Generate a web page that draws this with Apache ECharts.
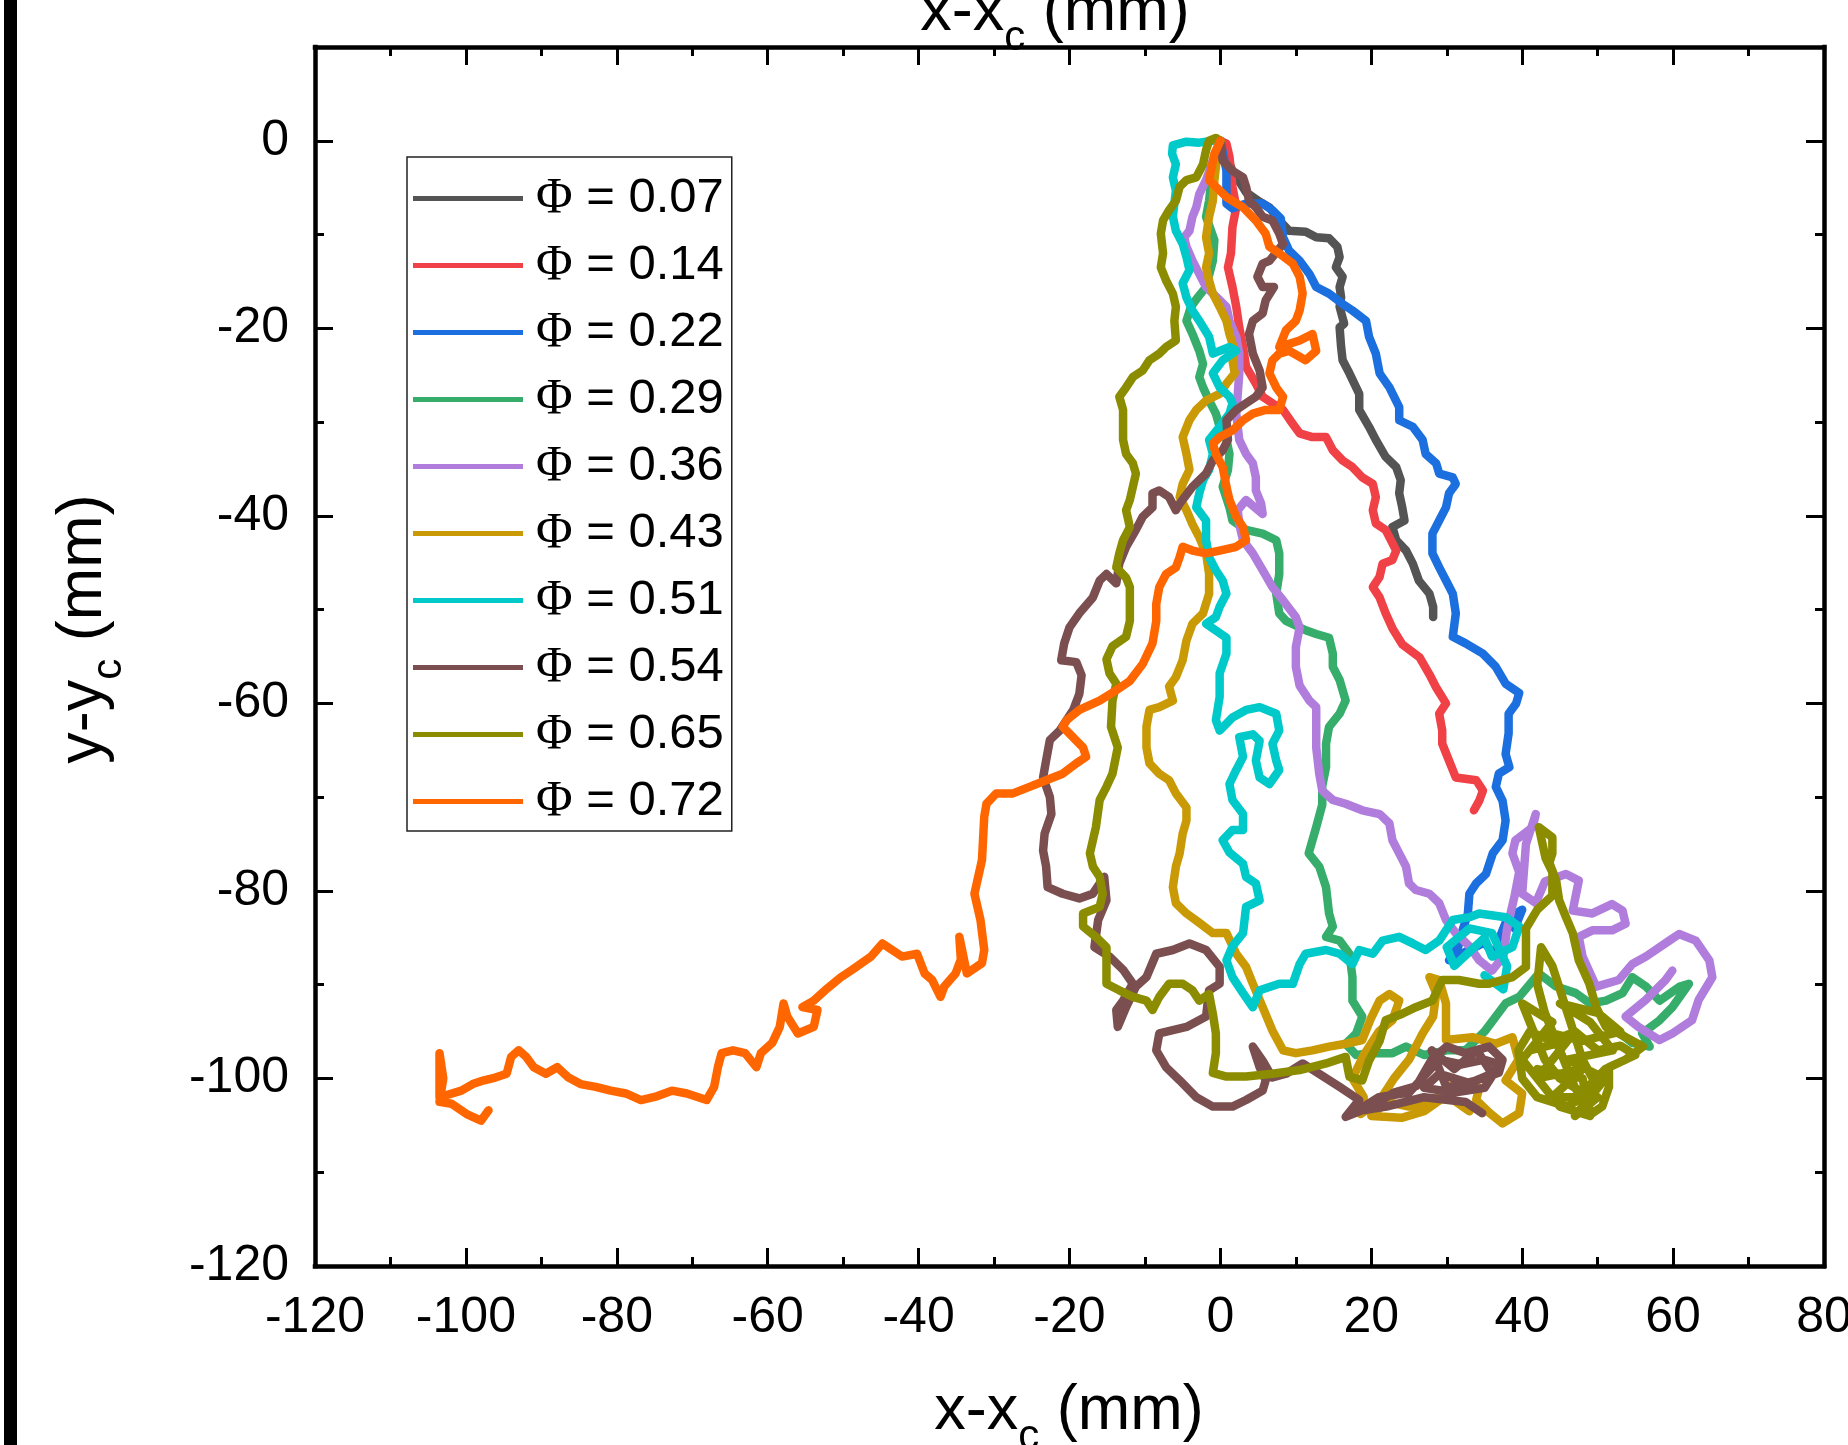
<!DOCTYPE html>
<html>
<head>
<meta charset="utf-8">
<script src="https://cdn.jsdelivr.net/npm/echarts@6.0.0/dist/echarts.min.js"></script>
<style>
  html, body { margin: 0; padding: 0; background: #fff; overflow: hidden; }
  #chart { width: 1848px; height: 1445px; }
</style>
</head>
<body>
<div id="chart"></div>
<script>
// trajectories, x-xc / y-yc in mm
const phi007 = [[0,0],[1.6,-3.2],[3.4,-5.5],[5.2,-6.5],[6.5,-7.1],[7.8,-8.5],[9.1,-9.6],[11.3,-9.7],[12.7,-10.3],[14.4,-10.4],[15.5,-11.3],[15.8,-12.4],[15.3,-13.5],[16.2,-14.5],[15.8,-15.6],[16.0,-16.7],[15.8,-17.7],[16.4,-19.5],[15.8,-19.9],[16.0,-22.0],[16.2,-23.4],[17.1,-24.8],[18.4,-27.0],[18.4,-28.7],[19.7,-30.5],[20.6,-31.9],[21.9,-33.7],[23.3,-34.8],[23.9,-36.2],[23.7,-37.6],[24.1,-39.1],[24.4,-40.5],[22.8,-41.2],[23.3,-42.6],[24.6,-43.7],[25.5,-45.1],[26.3,-46.9],[27.7,-48.3],[28.2,-49.7],[28.2,-50.8]];
const phi014 = [[0,0],[0.8,-0.3],[1.2,-1.7],[1.6,-4.9],[2.1,-7.1],[1.6,-9.2],[1.4,-12.0],[1.0,-13.5],[1.6,-15.6],[2.1,-17.7],[2.5,-19.9],[3.0,-22.0],[3.4,-24.1],[4.7,-25.9],[5.6,-27.3],[6.9,-28.0],[8.3,-28.7],[9.6,-30.2],[10.5,-31.2],[12.2,-31.6],[14.0,-31.6],[14.9,-33.0],[16.2,-34.1],[17.5,-34.8],[18.8,-35.9],[20.2,-36.6],[20.6,-38.0],[20.2,-39.4],[20.6,-40.8],[21.9,-41.5],[23.3,-43.7],[22.8,-44.7],[21.5,-45.1],[21.1,-46.5],[20.2,-47.6],[21.1,-48.7],[21.9,-50.4],[22.8,-52.0],[24.1,-53.7],[26.4,-55.1],[27.7,-56.9],[28.6,-58.3],[29.9,-60.0],[29.0,-61.1],[29.4,-62.9],[29.4,-64.3],[30.3,-66.1],[31.2,-67.9],[33.9,-68.2],[34.8,-69.3],[34.3,-70.4],[33.6,-71.4]];
const phi022 = [[0,0],[0.8,-3.2],[0.8,-6.7],[1.6,-7.2],[3.4,-6.7],[5.6,-6.7],[6.9,-7.4],[8.0,-8.3],[8.3,-10.3],[9.1,-11.7],[10.5,-12.8],[11.8,-14.2],[12.7,-15.6],[14.4,-16.3],[16.2,-17.4],[17.5,-18.1],[19.3,-19.2],[19.7,-20.9],[20.6,-22.7],[21.1,-24.8],[22.4,-26.3],[23.7,-28.4],[23.7,-29.8],[25.5,-30.5],[26.8,-31.9],[27.2,-33.4],[28.6,-34.4],[29.0,-35.5],[30.8,-35.9],[31.2,-36.6],[30.3,-37.6],[29.9,-39.1],[29.0,-40.5],[28.1,-41.9],[28.1,-44.0],[29.0,-45.5],[29.9,-46.9],[30.8,-48.3],[31.2,-50.4],[30.8,-52.9],[32.5,-53.6],[34.8,-54.7],[36.5,-56.1],[37.8,-57.9],[39.6,-58.9],[39.2,-60.0],[38.2,-61.1],[38.2,-63.2],[37.8,-65.4],[38.3,-66.8],[36.9,-67.5],[36.5,-68.9],[37.4,-70.4],[37.8,-72.5],[37.4,-74.6],[36.1,-76.0],[35.2,-78.2],[33.9,-79.2],[33.0,-80.3],[32.8,-82.4],[32.1,-84.2],[31.5,-86.0],[30.3,-87.4],[32.5,-86.5],[35.0,-85.5],[36.5,-87.0],[37.0,-85.0],[38.0,-83.0],[40.0,-82.0],[39.0,-84.0]];
const phi029 = [[0,0],[-1.0,-2.8],[-1.5,-6.4],[-1.9,-8.1],[-0.8,-10.6],[-1.0,-12.8],[-1.9,-15.6],[-3.0,-16.7],[-3.9,-17.7],[-4.5,-19.2],[-3.7,-20.6],[-2.8,-22.4],[-2.3,-23.8],[-2.8,-25.2],[-2.3,-26.3],[-1.5,-27.7],[-0.6,-29.1],[-0.1,-30.5],[0.8,-31.9],[1.2,-33.4],[1.0,-35.1],[0.3,-36.9],[1.2,-39.1],[1.6,-40.5],[3.4,-41.5],[5.6,-41.9],[7.4,-42.6],[7.8,-44.0],[7.8,-46.2],[7.4,-48.3],[7.8,-50.4],[8.7,-51.2],[11.3,-52.2],[12.7,-52.6],[14.4,-53.0],[14.9,-54.7],[14.9,-56.1],[15.8,-57.5],[16.6,-59.7],[15.8,-61.1],[14.4,-62.5],[14.0,-64.3],[14.0,-66.8],[13.5,-68.8],[13.5,-70.8],[12.7,-73.2],[11.7,-76.0],[13.1,-77.4],[14.0,-79.6],[14.4,-82.4],[14.9,-83.8],[14.0,-84.9],[15.8,-85.3],[17.1,-86.7],[17.5,-89.2],[17.5,-91.7],[18.8,-93.4],[18.0,-95.2],[16.6,-96.3],[18.0,-97.5],[20.0,-97.3],[22.8,-97.3],[24.6,-96.6],[27.0,-97.5],[30.0,-97.0],[32.5,-97.0],[35.0,-95.0],[37.8,-92.0],[39.6,-91.3],[42.2,-88.8],[44.5,-90.2],[47.1,-90.9],[49.0,-92.0],[51.1,-91.7],[53.3,-90.9],[54.6,-89.2],[56.4,-90.2],[58.2,-91.7],[60.9,-90.2],[62.1,-89.9],[59.9,-92.4],[58.2,-93.8],[55.9,-95.2],[56.9,-96.6],[54.6,-96.2],[51.9,-94.5]];
const phi036 = [[0,0],[-1.0,-2.1],[-1.9,-4.2],[-2.8,-5.7],[-3.2,-7.1],[-3.7,-8.1],[-4.1,-9.6],[-4.8,-10.3],[-4.5,-11.3],[-3.7,-12.8],[-2.8,-14.2],[-1.9,-15.6],[-0.1,-17.0],[0.8,-17.7],[1.2,-19.2],[2.1,-20.9],[2.5,-22.7],[2.5,-24.8],[2.3,-27.0],[2.1,-29.1],[2.5,-31.9],[3.4,-33.4],[4.3,-34.4],[4.7,-35.9],[4.7,-37.3],[5.4,-38.7],[5.6,-39.8],[3.4,-38.3],[2.3,-39.4],[2.5,-40.9],[3.0,-42.6],[4.3,-44.0],[5.6,-45.8],[6.9,-47.6],[8.3,-49.0],[10.0,-50.8],[10.5,-51.9],[10.0,-54.0],[10.0,-56.1],[10.5,-58.1],[11.8,-59.7],[12.7,-60.4],[12.7,-62.4],[12.7,-64.7],[13.1,-67.5],[13.5,-69.3],[14.9,-70.3],[16.6,-70.7],[18.8,-71.4],[21.1,-71.8],[22.4,-72.8],[22.8,-74.6],[23.7,-76.0],[24.6,-77.4],[25.0,-79.2],[25.9,-79.9],[27.7,-80.3],[29.0,-81.3],[29.9,-83.1],[31.2,-84.5],[33.0,-85.9],[34.3,-87.4],[36.0,-88.5],[37.5,-87.0],[38.0,-84.0],[39.0,-80.5],[39.6,-78.0],[38.7,-76.0],[39.1,-74.6],[41.4,-73.2],[41.8,-71.8],[40.5,-75.0],[40.0,-80.3],[41.8,-81.3],[43.0,-79.0],[45.8,-78.2],[47.5,-78.9],[46.7,-82.1],[49.3,-82.4],[51.9,-81.4],[53.3,-82.1],[53.7,-83.5],[51.9,-84.2],[49.3,-84.2],[47.5,-84.9],[48.0,-87.0],[49.8,-90.2],[52.8,-89.5],[54.6,-87.8],[56.4,-87.0],[59.5,-85.3],[60.8,-84.6],[63.0,-85.3],[64.8,-87.4],[65.2,-89.2],[63.4,-91.6],[62.5,-93.8],[59.9,-95.2],[58.2,-95.9],[55.4,-94.5],[53.7,-93.4],[56.4,-91.6],[59.0,-89.5],[59.9,-88.5]];
const phi043 = [[0,0],[-0.5,-2.1],[-0.8,-4.2],[-1.0,-6.4],[-1.5,-8.1],[-1.9,-10.3],[-1.5,-12.0],[-1.9,-13.5],[-1.5,-14.9],[-1.0,-16.3],[-0.1,-17.7],[0.8,-19.2],[1.2,-20.6],[1.9,-22.4],[1.6,-23.4],[1.9,-24.8],[0.8,-25.9],[-0.1,-27.0],[-1.9,-27.7],[-3.2,-28.7],[-4.1,-29.8],[-5.0,-31.6],[-4.5,-33.4],[-4.1,-35.1],[-5.0,-36.6],[-5.4,-38.0],[-4.5,-39.4],[-3.7,-40.9],[-2.8,-42.3],[-1.9,-44.0],[-1.5,-46.2],[-1.5,-48.3],[-2.3,-50.4],[-3.7,-51.5],[-4.5,-53.3],[-5.0,-55.4],[-5.9,-57.2],[-6.8,-58.2],[-6.3,-59.7],[-8.1,-60.4],[-9.4,-60.7],[-9.8,-62.5],[-9.8,-64.7],[-9.4,-66.4],[-8.1,-67.5],[-6.8,-68.2],[-5.9,-69.6],[-4.5,-71.1],[-4.5,-72.5],[-5.0,-73.9],[-5.4,-76.0],[-5.9,-77.4],[-6.3,-79.6],[-5.9,-81.3],[-4.5,-82.4],[-2.8,-83.4],[-1.0,-84.5],[0.8,-84.5],[2.1,-86.7],[3.4,-88.1],[4.3,-89.9],[5.6,-92.4],[6.9,-94.9],[8.3,-97.0],[10.0,-97.3],[12.2,-97.0],[14.4,-96.6],[16.6,-96.3],[18.8,-95.9],[20.0,-93.5],[21.1,-91.7],[22.4,-91.0],[23.7,-91.7],[22.8,-93.8],[21.0,-95.0],[19.0,-97.5],[17.5,-100.0],[19.0,-102.0],[18.6,-103.8],[21.0,-102.5],[23.0,-100.0],[25.0,-98.0],[26.8,-95.2],[28.2,-93.4],[28.6,-90.9],[27.7,-89.2],[29.0,-89.5],[29.9,-92.0],[29.9,-95.9],[33.4,-95.6],[36.5,-96.3],[38.7,-95.6],[39.5,-98.0],[37.8,-100.2],[40.0,-101.6],[39.6,-103.7],[37.4,-104.8],[35.7,-103.7],[33.9,-102.3],[34.3,-101.0],[31.0,-100.5],[28.0,-102.5],[25.0,-103.0],[22.0,-102.5],[20.0,-104.0],[24.0,-104.2],[27.0,-103.5],[30.0,-101.8],[33.0,-103.5]];
const phi051 = [[0,0],[-1.0,0],[-2.8,-0.2],[-4.5,-0.1],[-6.3,-0.5],[-6.4,-1.4],[-5.9,-2.5],[-6.3,-3.9],[-5.9,-5.3],[-6.1,-6.7],[-6.3,-8.1],[-5.9,-9.6],[-5.0,-11.0],[-4.5,-12.4],[-4.1,-13.8],[-5.0,-15.2],[-4.5,-16.7],[-3.7,-18.1],[-2.8,-19.2],[-1.5,-20.9],[-1.0,-22.7],[1.2,-22.0],[2.1,-22.4],[0.3,-23.4],[-1.0,-24.8],[-0.1,-26.3],[1.2,-27.3],[1.6,-28.0],[1.2,-29.1],[-0.1,-30.5],[-1.5,-31.9],[-1.0,-33.4],[-1.5,-35.1],[-2.3,-36.2],[-2.8,-37.6],[-3.2,-39.1],[-1.9,-40.5],[-1.9,-42.6],[-1.5,-44.4],[-0.6,-45.8],[0.3,-46.9],[0.8,-48.3],[-0.1,-49.7],[-0.6,-50.8],[-1.9,-51.5],[0.8,-53.0],[0.8,-54.7],[-0.1,-56.8],[-0.1,-59.3],[-0.6,-61.8],[-0.1,-62.9],[1.6,-61.5],[3.4,-60.7],[5.2,-60.4],[7.4,-61.1],[7.8,-62.9],[6.9,-64.3],[7.4,-66.1],[7.8,-67.1],[6.5,-68.6],[5.2,-67.9],[4.7,-66.1],[5.2,-64.0],[4.3,-63.3],[2.5,-63.6],[3.0,-65.7],[2.1,-67.1],[1.2,-68.6],[1.6,-70.3],[3.0,-71.8],[3.0,-73.5],[1.6,-73.5],[0.3,-74.6],[1.2,-75.9],[3.0,-77.1],[3.4,-78.5],[4.7,-79.2],[5.2,-81.0],[3.4,-81.7],[3.0,-84.5],[1.6,-85.9],[0.8,-87.4],[1.6,-89.2],[3.0,-90.9],[4.3,-92.4],[5.2,-90.6],[7.8,-89.9],[9.6,-89.9],[10.5,-87.8],[11.3,-86.7],[14.0,-86.3],[15.8,-86.7],[17.5,-87.8],[18.4,-86.3],[20.2,-86.7],[21.5,-85.3],[23.7,-84.9],[25.5,-85.6],[27.2,-86.3],[29.0,-85.3],[30.8,-83.1],[33.0,-82.8],[34.3,-82.4],[37.8,-82.8],[39.6,-83.8],[38.7,-86.0],[36.0,-87.0],[35.0,-85.0],[33.0,-86.5],[31.0,-88.0],[30.0,-86.0],[33.0,-84.0],[36.0,-84.5],[38.0,-88.0],[37.5,-90.5],[35.0,-89.0]];
const phi054 = [[0,0],[0.3,-2.1],[1.6,-3.2],[3.0,-3.9],[3.4,-4.9],[3.8,-6.4],[4.7,-7.1],[5.6,-8.1],[6.9,-8.5],[7.8,-9.9],[8.3,-11.0],[6.5,-12.8],[5.6,-13.1],[4.9,-14.5],[5.6,-15.6],[7.1,-15.6],[6.0,-17.0],[5.6,-18.4],[4.3,-19.2],[3.8,-20.6],[4.3,-22.7],[5.2,-24.5],[5.6,-26.3],[4.7,-27.3],[3.4,-28.0],[2.1,-28.7],[0.8,-29.8],[1.0,-31.9],[0.3,-33.0],[-1.0,-34.1],[-1.9,-35.5],[-3.7,-36.9],[-5.4,-38.7],[-5.9,-39.4],[-6.8,-38.0],[-8.1,-37.3],[-9.0,-37.6],[-9.0,-39.1],[-10.3,-40.1],[-11.2,-41.5],[-12.5,-43.3],[-13.4,-45.1],[-13.8,-47.2],[-15.1,-46.2],[-16.0,-46.9],[-16.9,-48.7],[-18.7,-50.4],[-20.0,-51.9],[-20.7,-53.6],[-21.1,-55.4],[-19.1,-55.6],[-18.4,-57.0],[-18.7,-59.0],[-19.5,-60.7],[-21.3,-62.9],[-22.6,-63.9],[-23.1,-66.1],[-23.5,-67.9],[-22.6,-70.0],[-22.4,-71.8],[-23.3,-73.9],[-23.5,-75.7],[-23.1,-77.4],[-22.9,-79.6],[-20.9,-80.3],[-18.7,-80.8],[-16.9,-80.3],[-15.4,-78.5],[-15.1,-81.0],[-16.2,-83.1],[-16.7,-86.0],[-14.7,-87.0],[-12.9,-88.4],[-11.6,-89.9],[-12.9,-91.7],[-13.8,-92.7],[-13.6,-94.5],[-12.5,-92.4],[-11.2,-90.2],[-9.8,-89.2],[-8.5,-86.7],[-6.3,-86.3],[-4.1,-85.6],[-1.9,-86.3],[-0.1,-88.1],[-0.1,-89.9],[-1.5,-90.6],[-1.9,-93.4],[-4.5,-94.5],[-8.1,-95.2],[-8.5,-97.0],[-7.2,-98.8],[-5.4,-100.2],[-3.2,-102.0],[-1.0,-103.0],[1.6,-103.0],[3.4,-102.3],[5.6,-101.3],[6.0,-100.2],[5.2,-98.8],[4.3,-96.6],[5.6,-98.1],[6.9,-99.9],[8.7,-99.5],[10.9,-98.4],[13.1,-99.5],[15.8,-100.9],[18.4,-102.3],[16.6,-104.1],[20.0,-103.0],[23.0,-101.5],[26.0,-100.8],[28.0,-98.0],[30.0,-96.6],[32.5,-97.3],[35.6,-96.6],[37.4,-98.0],[36.9,-99.4],[34.0,-100.2],[30.0,-101.0],[28.0,-97.0],[31.0,-99.0],[34.0,-97.0],[36.0,-99.5],[33.0,-100.5],[29.0,-99.5],[27.0,-101.0],[31.0,-101.5],[35.0,-101.0],[37.0,-98.5],[35.0,-98.0],[32.0,-98.5],[29.0,-98.0],[25.0,-101.5],[21.0,-102.0],[18.0,-103.5],[22.0,-103.0],[27.0,-102.0],[32.5,-102.5],[34.7,-103.7]];
const phi065 = [[0,0],[-0.6,0.3],[-1.5,0],[-1.9,-1.0],[-2.3,-2.5],[-3.2,-3.9],[-4.5,-4.2],[-5.4,-4.9],[-5.9,-6.4],[-6.8,-7.4],[-7.6,-8.5],[-7.9,-9.9],[-7.6,-12.0],[-7.9,-13.5],[-7.2,-14.9],[-6.3,-16.3],[-5.9,-17.7],[-6.1,-19.2],[-5.9,-21.3],[-7.2,-22.0],[-8.1,-22.7],[-9.4,-23.4],[-10.3,-24.5],[-11.6,-25.2],[-12.5,-26.3],[-13.4,-27.3],[-12.9,-28.7],[-12.9,-30.5],[-12.9,-31.9],[-12.5,-33.4],[-11.6,-34.4],[-11.2,-35.5],[-11.6,-36.9],[-12.0,-38.3],[-12.5,-39.4],[-12.0,-41.2],[-12.9,-42.6],[-13.4,-44.0],[-13.8,-45.5],[-12.5,-46.6],[-12.0,-47.6],[-12.0,-49.0],[-12.0,-51.2],[-12.5,-52.9],[-14.3,-53.9],[-15.1,-55.3],[-14.7,-56.8],[-13.8,-57.9],[-14.3,-59.7],[-14.5,-62.5],[-13.6,-64.7],[-14.3,-67.5],[-15.1,-68.9],[-16.0,-70.3],[-16.5,-73.2],[-17.3,-76.0],[-16.9,-77.4],[-16.0,-78.5],[-15.6,-80.3],[-16.0,-81.7],[-18.2,-82.4],[-18.2,-83.8],[-16.5,-84.9],[-15.1,-86.0],[-15.1,-88.1],[-15.1,-89.9],[-13.4,-90.6],[-11.6,-91.3],[-9.8,-91.7],[-9.0,-92.7],[-8.1,-91.3],[-6.8,-89.9],[-5.0,-89.9],[-3.7,-90.6],[-2.8,-91.7],[-1.5,-91.0],[-1.0,-93.1],[-0.6,-95.2],[-0.6,-97.3],[-1.0,-99.4],[0.8,-99.8],[3.4,-99.8],[6.9,-99.5],[10.5,-99.1],[14.0,-98.4],[16.6,-97.7],[17.1,-99.8],[18.8,-100.2],[19.7,-98.1],[21.1,-96.0],[21.9,-93.8],[24.1,-93.1],[25.9,-92.4],[28.1,-91.7],[29.4,-89.5],[31.6,-89.5],[34.3,-89.9],[35.6,-89.9],[38.7,-89.2],[40.5,-88.1],[40.5,-84.0],[42.0,-82.0],[44.0,-80.5],[44.0,-78.0],[43.1,-76.5],[42.2,-73.2],[44.0,-74.3],[44.0,-76.0],[43.6,-77.0],[44.5,-78.9],[44.9,-81.0],[45.8,-82.8],[46.7,-84.5],[47.5,-87.4],[48.9,-89.9],[49.8,-92.4],[51.1,-94.5],[52.8,-95.2],[56.0,-96.6],[53.7,-98.0],[51.5,-98.8],[51.5,-100.9],[50.6,-103.0],[49.3,-103.7],[47.0,-101.0],[45.0,-97.0],[43.0,-93.0],[42.0,-90.0],[42.5,-86.0],[44.0,-88.0],[46.0,-93.0],[48.0,-98.0],[50.0,-101.0],[46.0,-103.0],[42.0,-102.0],[40.0,-100.0],[39.5,-97.0],[41.0,-95.0],[44.0,-96.0],[47.0,-95.0],[50.0,-97.0],[53.0,-96.5],[55.0,-97.5],[51.0,-99.0],[48.0,-101.5],[45.0,-100.0],[43.0,-98.0],[40.0,-92.0],[44.0,-94.0],[41.0,-97.0],[46.0,-96.0],[42.0,-100.0],[48.0,-99.0],[44.0,-102.0],[50.0,-102.0],[47.0,-104.0],[51.0,-100.0],[46.0,-98.0],[52.0,-97.0],[49.0,-94.0],[45.0,-92.0],[50.0,-93.0],[53.0,-95.0],[48.0,-96.0],[43.0,-95.0],[40.0,-98.0],[45.0,-103.0],[49.0,-104.0],[48.0,-100.0],[42.0,-99.0]];
const phi072 = [[0,0],[-0.8,-1.4],[-1.5,-4.2],[-0.6,-4.9],[0.8,-6.0],[3.0,-7.1],[4.7,-8.5],[6.0,-9.9],[6.5,-11.3],[7.8,-12.0],[9.6,-13.1],[10.5,-14.5],[10.9,-16.3],[10.5,-18.1],[10.0,-19.2],[8.7,-20.2],[7.8,-22.0],[10.5,-21.3],[12.2,-20.6],[12.7,-22.4],[11.3,-23.4],[9.1,-22.4],[7.8,-22.7],[6.9,-23.4],[6.5,-24.8],[7.4,-26.3],[8.3,-27.3],[7.8,-28.7],[6.0,-28.7],[4.3,-29.1],[3.0,-29.8],[1.6,-30.9],[-0.1,-31.6],[-1.0,-32.3],[-0.6,-33.4],[0.3,-34.8],[0.8,-36.9],[1.2,-38.3],[2.1,-40.1],[3.0,-41.2],[3.4,-42.6],[2.1,-43.3],[-0.1,-43.7],[-1.9,-44.0],[-3.7,-43.7],[-5.0,-43.3],[-5.4,-44.4],[-5.9,-45.5],[-7.2,-46.2],[-8.1,-47.6],[-8.5,-49.4],[-8.5,-51.2],[-9.0,-53.6],[-10.3,-55.8],[-12.0,-57.6],[-13.8,-58.6],[-16.0,-59.7],[-18.7,-60.7],[-20.4,-61.8],[-20.9,-62.5],[-18.2,-64.7],[-17.8,-65.7],[-19.1,-66.4],[-20.9,-67.5],[-23.1,-68.2],[-25.3,-68.9],[-27.5,-69.6],[-29.7,-69.6],[-31.0,-70.7],[-31.3,-72.1],[-31.6,-76.7],[-32.6,-80.3],[-31.8,-83.1],[-31.3,-86.3],[-31.6,-87.7],[-33.6,-88.8],[-34.6,-84.9],[-34.4,-87.3],[-35.1,-88.8],[-36.6,-90.2],[-37.1,-91.3],[-38.2,-89.5],[-39.2,-88.8],[-40.2,-86.7],[-42.2,-87.0],[-44.8,-85.6],[-46.3,-87.0],[-48.8,-88.4],[-50.3,-89.2],[-52.4,-90.6],[-53.9,-91.7],[-55.4,-92.4],[-53.4,-92.7],[-53.9,-94.5],[-56.0,-95.2],[-57.4,-93.4],[-57.9,-92.0],[-58.4,-94.5],[-59.4,-96.2],[-60.9,-97.3],[-61.5,-98.8],[-63.0,-97.3],[-64.6,-97.0],[-66.1,-97.3],[-66.6,-98.8],[-67.1,-100.9],[-68.1,-102.3],[-70.7,-101.6],[-72.7,-101.3],[-74.7,-101.9],[-76.8,-102.3],[-78.8,-101.6],[-80.8,-101.3],[-82.8,-100.9],[-84.8,-100.6],[-86.4,-99.9],[-87.9,-98.8],[-89.4,-99.5],[-91.0,-98.8],[-92.0,-97.7],[-93.0,-97.0],[-94.0,-97.7],[-94.6,-99.5],[-96.1,-99.9],[-97.6,-100.2],[-99.1,-100.6],[-100.6,-101.3],[-103.5,-102.0],[-103.5,-97.3],[-103.0,-100.0],[-103.5,-102.5],[-101.9,-102.7],[-99.9,-103.8],[-98.0,-104.5],[-97.0,-103.4]];

const phiValues = ['0.07', '0.14', '0.22', '0.29', '0.36', '0.43', '0.51', '0.54', '0.65', '0.72'];
const tracks = [phi007, phi014, phi022, phi029, phi036, phi043, phi051, phi054, phi065, phi072];
const colors = ['#545454', '#ef4146', '#1b6fde', '#36ad6b', '#b07ddd', '#c99a06', '#00c9c9', '#7b4f4f', '#8c8c00', '#ff6600'];

const font = 'Liberation Sans, Arial, sans-serif';

function axis(extra) {
  return Object.assign({
    type: 'value',
    axisLine: { show: true, onZero: false, lineStyle: { color: '#000', width: 4.5, cap: 'square' } },
    axisTick: { show: true, inside: true, length: 18, lineStyle: { color: '#000', width: 3 } },
    axisLabel: { show: false },
    splitLine: { show: false }
  }, extra);
}
function minorAxis(extra) {
  return axis(Object.assign({
    interval: 10,
    axisLine: { show: false, onZero: false },
    axisTick: { show: true, inside: true, length: 9, lineStyle: { color: '#000', width: 3 } }
  }, extra));
}

const titleRich = {
  a: { fontFamily: font, fontSize: 63, lineHeight: 92, color: '#000' },
  b: { fontFamily: font, fontSize: 42, lineHeight: 42, verticalAlign: 'bottom', color: '#000' }
};

const chart = echarts.init(document.getElementById('chart'), null, { width: 1848, height: 1445 });
chart.setOption({
  animation: false,
  backgroundColor: '#fff',
  grid: { left: 315, right: 24, top: 47, bottom: 179, containLabel: false, outerBoundsMode: 'none' },
  xAxis: [
    axis({ position: 'bottom', min: -120, max: 80, interval: 20,
      axisLabel: { show: true, fontSize: 50, fontFamily: font, color: '#000', margin: 27 } }),
    minorAxis({ position: 'bottom', min: -120, max: 80 }),
    axis({ position: 'top', min: -120, max: 80, interval: 20 }),
    minorAxis({ position: 'top', min: -120, max: 80 })
  ],
  yAxis: [
    axis({ position: 'left', min: -120, max: 10, interval: 20,
      axisLabel: { show: true, fontSize: 50, fontFamily: font, color: '#000', margin: 26,
        formatter: v => (v > 0 ? '' : String(v)) } }),
    minorAxis({ position: 'left', min: -120, max: 10 }),
    axis({ position: 'right', min: -120, max: 10, interval: 20 }),
    minorAxis({ position: 'right', min: -120, max: 10 })
  ],
  legend: {
    orient: 'vertical',
    left: 407,
    top: 157,
    padding: [16.5, 8, 4.5, 6],
    borderColor: '#222',
    borderWidth: 1.5,
    backgroundColor: '#fff',
    icon: 'rect',
    itemWidth: 110,
    itemHeight: 5,
    itemGap: 17,
    data: phiValues.map(v => 'Φ = ' + v),
    formatter: name => '{s| }{p|Φ}{t| = ' + name.split('= ')[1] + '}',
    textStyle: {
      color: '#000',
      rich: {
        s: { width: 8, fontSize: 49, lineHeight: 49 },
        p: { fontFamily: 'Liberation Serif, Times New Roman, serif', fontSize: 50, lineHeight: 49, color: '#000' },
        t: { fontFamily: font, fontSize: 49, lineHeight: 49, color: '#000' }
      }
    }
  },
  series: tracks.map((d, i) => ({
    name: 'Φ = ' + phiValues[i],
    type: 'line',
    xAxisIndex: 0,
    yAxisIndex: 0,
    data: d,
    showSymbol: false,
    symbol: 'none',
    smooth: false,
    itemStyle: { color: colors[i] },
    lineStyle: { color: colors[i], width: 8.5, join: 'round', cap: 'round' },
    emphasis: { disabled: true }
  })),
  graphic: [
    { type: 'rect', left: 4, top: 0, shape: { width: 13, height: 1445 }, style: { fill: '#000' } },
    { type: 'text', x: 1055, y: 13,
      style: { text: '{a|x-x}{b|c}{a| (mm)}', rich: titleRich, align: 'center', verticalAlign: 'middle' } },
    { type: 'text', x: 1069, y: 1412,
      style: { text: '{a|x-x}{b|c}{a| (mm)}', rich: titleRich, align: 'center', verticalAlign: 'middle' } },
    { type: 'text', x: 84, y: 629, rotation: Math.PI / 2,
      style: { text: '{a|y-y}{b|c}{a| (mm)}', rich: titleRich, align: 'center', verticalAlign: 'middle' } }
  ]
});
</script>
</body>
</html>
